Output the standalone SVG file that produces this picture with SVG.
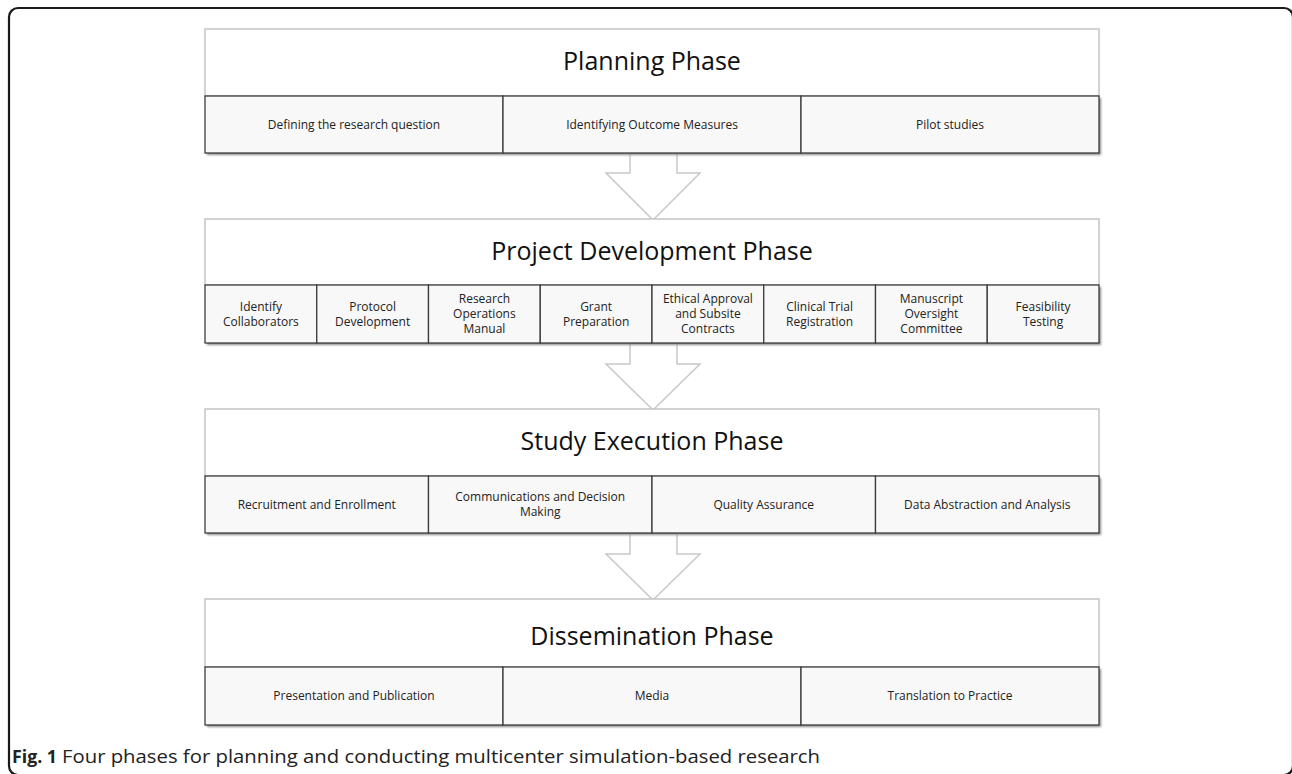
<svg xmlns="http://www.w3.org/2000/svg" width="1292" height="774" viewBox="0 0 1292 774">
<defs>
<style>
.frame{fill:none;stroke:#1a1a1a;stroke-width:2.2}
.hdr{fill:#ffffff;stroke:#c4c4c4;stroke-width:1.5}
.cell{fill:#f8f8f8;stroke:#3c3c3c;stroke-width:1.3}
.shadow{fill:#8a8a8a;filter:url(#blur)}
.arrow{fill:#ffffff;stroke:#c8c8c8;stroke-width:1.5}
.title{font-family:"Open Sans","Liberation Sans",sans-serif;font-size:25px;fill:#111;text-anchor:middle}
.sub{font-family:"Open Sans","Liberation Sans",sans-serif;font-size:12px;fill:#222;text-anchor:middle}
.cap{font-family:"Open Sans","Liberation Sans",sans-serif;font-size:18px;fill:#222}
</style>
<filter id="blur" x="-5%" y="-50%" width="110%" height="200%"><feGaussianBlur stdDeviation="1.2"/></filter>
</defs>
<rect x="9" y="8" width="1284" height="767" rx="9" class="frame"/>

<g id="connectors">
<polygon class="arrow" points="630,153 677,153 677,173 700,173 653,220 606,173 630,173"/>
<polygon class="arrow" points="630,343 677,343 677,364 700,364 653,410 606,364 630,364"/>
<polygon class="arrow" points="630,533 677,533 677,554 700,554 653,600 606,554 630,554"/>
</g>

<g id="planning">
<rect class="hdr" x="205" y="29" width="894" height="67"/>
<text class="title" x="652" y="70">Planning Phase</text>
<rect class="shadow" x="207" y="98" width="894" height="57"/>
<rect class="cell" x="205" y="96" width="298" height="57"/>
<rect class="cell" x="503" y="96" width="298" height="57"/>
<rect class="cell" x="801" y="96" width="298" height="57"/>
<text class="sub" x="354" y="129">Defining the research question</text>
<text class="sub" x="652" y="129">Identifying Outcome Measures</text>
<text class="sub" x="950" y="129">Pilot studies</text>
</g>

<g id="project-development">
<rect class="hdr" x="205" y="219" width="894" height="66"/>
<text class="title" x="652" y="260">Project Development Phase</text>
<rect class="shadow" x="207" y="287" width="894" height="58"/>
<rect class="cell" x="205" y="285" width="111.75" height="58"/>
<rect class="cell" x="316.75" y="285" width="111.75" height="58"/>
<rect class="cell" x="428.5" y="285" width="111.75" height="58"/>
<rect class="cell" x="540.25" y="285" width="111.75" height="58"/>
<rect class="cell" x="652" y="285" width="111.75" height="58"/>
<rect class="cell" x="763.75" y="285" width="111.75" height="58"/>
<rect class="cell" x="875.5" y="285" width="111.75" height="58"/>
<rect class="cell" x="987.25" y="285" width="111.75" height="58"/>
<text class="sub" x="260.9" y="311"><tspan x="260.9">Identify</tspan><tspan x="260.9" dy="15">Collaborators</tspan></text>
<text class="sub" x="372.6" y="311"><tspan x="372.6">Protocol</tspan><tspan x="372.6" dy="15">Development</tspan></text>
<text class="sub" x="484.4" y="303"><tspan x="484.4">Research</tspan><tspan x="484.4" dy="15">Operations</tspan><tspan x="484.4" dy="15">Manual</tspan></text>
<text class="sub" x="596.1" y="311"><tspan x="596.1">Grant</tspan><tspan x="596.1" dy="15">Preparation</tspan></text>
<text class="sub" x="707.9" y="303"><tspan x="707.9">Ethical Approval</tspan><tspan x="707.9" dy="15">and Subsite</tspan><tspan x="707.9" dy="15">Contracts</tspan></text>
<text class="sub" x="819.6" y="311"><tspan x="819.6">Clinical Trial</tspan><tspan x="819.6" dy="15">Registration</tspan></text>
<text class="sub" x="931.4" y="303"><tspan x="931.4">Manuscript</tspan><tspan x="931.4" dy="15">Oversight</tspan><tspan x="931.4" dy="15">Committee</tspan></text>
<text class="sub" x="1043.1" y="311"><tspan x="1043.1">Feasibility</tspan><tspan x="1043.1" dy="15">Testing</tspan></text>
</g>

<g id="study-execution">
<rect class="hdr" x="205" y="409" width="894" height="67"/>
<text class="title" x="652" y="450">Study Execution Phase</text>
<rect class="shadow" x="207" y="478" width="894" height="57"/>
<rect class="cell" x="205" y="476" width="223.5" height="57"/>
<rect class="cell" x="428.5" y="476" width="223.5" height="57"/>
<rect class="cell" x="652" y="476" width="223.5" height="57"/>
<rect class="cell" x="875.5" y="476" width="223.5" height="57"/>
<text class="sub" x="316.75" y="509">Recruitment and Enrollment</text>
<text class="sub" x="540.25" y="501"><tspan x="540.25">Communications and Decision</tspan><tspan x="540.25" dy="15">Making</tspan></text>
<text class="sub" x="763.75" y="509">Quality Assurance</text>
<text class="sub" x="987.25" y="509">Data Abstraction and Analysis</text>
</g>

<g id="dissemination">
<rect class="hdr" x="205" y="599" width="894" height="68"/>
<text class="title" x="652" y="645">Dissemination Phase</text>
<rect class="shadow" x="207" y="669" width="894" height="58"/>
<rect class="cell" x="205" y="667" width="298" height="58"/>
<rect class="cell" x="503" y="667" width="298" height="58"/>
<rect class="cell" x="801" y="667" width="298" height="58"/>
<text class="sub" x="354" y="700">Presentation and Publication</text>
<text class="sub" x="652" y="700">Media</text>
<text class="sub" x="950" y="700">Translation to Practice</text>
</g>

<text class="cap" x="12" y="763" font-weight="bold" textLength="45" lengthAdjust="spacingAndGlyphs">Fig. 1</text>
<text class="cap" x="62" y="763" textLength="758" lengthAdjust="spacingAndGlyphs">Four phases for planning and conducting multicenter simulation-based research</text>
</svg>
